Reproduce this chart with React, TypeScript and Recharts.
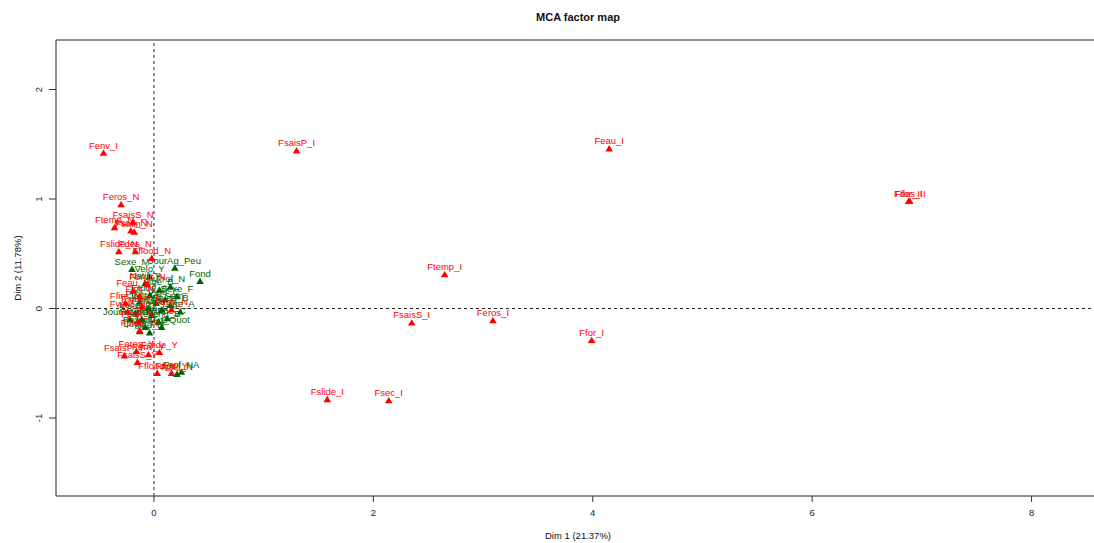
import { ScatterChart, Scatter, XAxis, YAxis, ReferenceLine } from 'recharts';

// active categories (red) — labels and coordinates on the first two dimensions
const redLabels = [
  'Fenv_I', 'FsaisP_I', 'Feau_I', 'Fdes_II', 'Ffor_II', 'Ftemp_I', 'FsaisS_I', 'Feros_I', 'Ffor_I',
  'Fslide_I', 'Fsec_I', 'Feros_N', 'Ftemp_N', 'FsaisS_N', 'Fsec_N', 'Fsalin_N', 'Fslide_N', 'Fdes_N',
  'Fflood_N', 'Feau_N', 'Ffor_N', 'Ffire_N', 'FsaisP_N', 'Fenv_N', 'Fvent_N', 'Fpoll_N', 'Fpluie_N',
  'Fbruit_N', 'Feros_Y', 'Fslide_Y', 'FsaisP_Y', 'FsaisS_Y', 'Fenv_Y', 'Fflood_Y', 'Fdes_Y',
];
const redDim1 = [
  -0.46, 1.3, 4.15, 6.89, 6.88, 2.65, 2.35, 3.09, 3.99,
  1.58, 2.14, -0.3, -0.36, -0.19, -0.21, -0.18, -0.32, -0.17,
  -0.02, -0.19, -0.13, -0.26, -0.11, 0.16, -0.24, -0.15, -0.13,
  -0.06, -0.16, 0.05, -0.27, -0.15, -0.05, 0.03, 0.16,
];
const redDim2 = [
  1.42, 1.44, 1.46, 0.98, 0.98, 0.31, -0.13, -0.11, -0.29,
  -0.83, -0.84, 0.95, 0.74, 0.79, 0.71, 0.7, 0.52, 0.52,
  0.46, 0.16, 0.11, 0.05, 0.02, -0.01, -0.03, -0.12, -0.2,
  0.22, -0.39, -0.4, -0.43, -0.49, -0.42, -0.59, -0.59,
];

// supplementary categories (green)
const greenLabels = [
  'Sexe_M', 'JourAg_Peu', 'Fond', 'Velo_Y', 'Natif_Y', 'Prof_N', 'Age_B', 'Etude_A', 'Sexe_F',
  'Age_C', 'Prof_Y', 'JourAg_Sem', 'Etude_B', 'Age_A', 'Fond_N', 'Velo_N', 'Loge_P', 'Loge_L',
  'Etude_C', 'JourAg_Jour', 'Revenu_A', 'Revenu_B', 'JourAg_Quot', 'Revenu_C', 'Age_D', 'Loge_F',
  'Natif_N', 'Prof_NA',
];
const greenDim1 = [
  -0.2, 0.19, 0.42, -0.04, -0.08, 0.15, 0.05, -0.04, 0.21,
  0.1, -0.13, 0.02, 0.15, 0.24, -0.05, 0.07, -0.17, -0.02,
  0.12, -0.22, -0.11, 0.04, 0.07, -0.08, -0.04, -0.13,
  0.21, 0.25,
];
const greenDim2 = [
  0.36, 0.37, 0.25, 0.29, 0.23, 0.2, 0.17, 0.12, 0.11,
  0.08, 0.06, 0.05, 0.03, -0.03, 0.0, -0.01, -0.04, -0.06,
  -0.09, -0.1, -0.1, -0.12, -0.17, -0.17, -0.22, -0.21,
  -0.6, -0.58,
];

const xTicks = [0, 2, 4, 6, 8];
const yTicks = [-1, 0, 1, 2];

const X_MIN = -0.893;
const X_MAX = 8.624;
const Y_MIN = -1.712;
const Y_MAX = 2.452;

const RED = '#ff0000';
const GREEN = '#006400';
const FRAME = '#6b6b6b';
const FONT = '"Liberation Sans", Arial, sans-serif';

const redData = redLabels.map((name, i) => ({ name, x: redDim1[i], y: redDim2[i] }));
const greenData = greenLabels.map((name, i) => ({ name, x: greenDim1[i], y: greenDim2[i] }));

// pch=17 style filled triangle with its label just above
function makeMark(color: string) {
  return function Mark(props: any) {
    const { cx, cy, payload } = props;
    if (cx == null || cy == null) return null;
    return (
      <g>
        <path
          d={`M${cx},${cy - 3.6} L${cx + 3.8},${cy + 2.8} L${cx - 3.8},${cy + 2.8} Z`}
          fill={color}
        />
        <text
          x={cx}
          y={cy - 8}
          textAnchor="middle"
          dominantBaseline="central"
          fill={color}
          fontSize={9.5}
          fontFamily={FONT}
        >
          {payload.name}
        </text>
      </g>
    );
  };
}

const XTick = ({ x, y, payload }: any) => (
  <text x={x} y={y} textAnchor="middle" dominantBaseline="central" fontSize={9.5} fontFamily={FONT} fill="#222">
    {payload.value}
  </text>
);

const YTick = ({ x, y, payload }: any) => (
  <text
    x={x}
    y={y}
    transform={`rotate(-90 ${x} ${y})`}
    textAnchor="middle"
    dominantBaseline="central"
    fontSize={9.5}
    fontFamily={FONT}
    fill="#222"
  >
    {payload.value}
  </text>
);

const XLabel = ({ viewBox }: any) => (
  <text
    x={viewBox.x + viewBox.width / 2}
    y={viewBox.y + 39}
    textAnchor="middle"
    dominantBaseline="central"
    fontSize={9.5}
    fontFamily={FONT}
    fill="#111"
  >
    Dim 1 (21.37%)
  </text>
);

const YLabel = ({ viewBox }: any) => {
  const x = viewBox.x + 17;
  const y = viewBox.y + viewBox.height / 2;
  return (
    <text
      x={x}
      y={y}
      transform={`rotate(-90 ${x} ${y})`}
      textAnchor="middle"
      dominantBaseline="central"
      fontSize={9.5}
      fontFamily={FONT}
      fill="#111"
    >
      Dim 2 (11.78%)
    </text>
  );
};

export default function App() {
  return (
    <div
      style={{
        position: 'absolute',
        left: 0,
        top: 0,
        width: 1094,
        height: 543,
        overflow: 'hidden',
        background: '#fff',
      }}
    >
      <div
        style={{
          position: 'absolute',
          left: 0,
          top: 11,
          width: 1156,
          textAlign: 'center',
          fontFamily: FONT,
          fontWeight: 'bold',
          fontSize: 11,
          lineHeight: '12px',
          color: '#111',
        }}
      >
        MCA factor map
      </div>
      <ScatterChart width={1110} height={543} margin={{ top: 40, right: 10, bottom: 0, left: 0 }}>
        <XAxis
          type="number"
          dataKey="x"
          domain={[X_MIN, X_MAX]}
          ticks={xTicks}
          allowDataOverflow
          height={47}
          tickSize={6}
          tickMargin={10}
          tick={<XTick />}
          axisLine={{ stroke: FRAME, strokeWidth: 1.5 }}
          tickLine={{ stroke: '#333' }}
          label={<XLabel />}
        />
        <YAxis
          type="number"
          dataKey="y"
          domain={[Y_MIN, Y_MAX]}
          ticks={yTicks}
          allowDataOverflow
          width={56}
          tickSize={7}
          tickMargin={10}
          tick={<YTick />}
          axisLine={{ stroke: FRAME, strokeWidth: 1.5 }}
          tickLine={{ stroke: '#333' }}
          label={<YLabel />}
        />
        <ReferenceLine y={Y_MAX} stroke={FRAME} strokeWidth={1.5} />
        <ReferenceLine x={X_MAX} stroke={FRAME} strokeWidth={1.5} />
        <ReferenceLine x={0} stroke="#222" strokeDasharray="3 3" />
        <ReferenceLine y={0} stroke="#222" strokeDasharray="3 3" />
        <Scatter data={greenData} shape={makeMark(GREEN)} isAnimationActive={false} />
        <Scatter data={redData} shape={makeMark(RED)} isAnimationActive={false} />
      </ScatterChart>
    </div>
  );
}
